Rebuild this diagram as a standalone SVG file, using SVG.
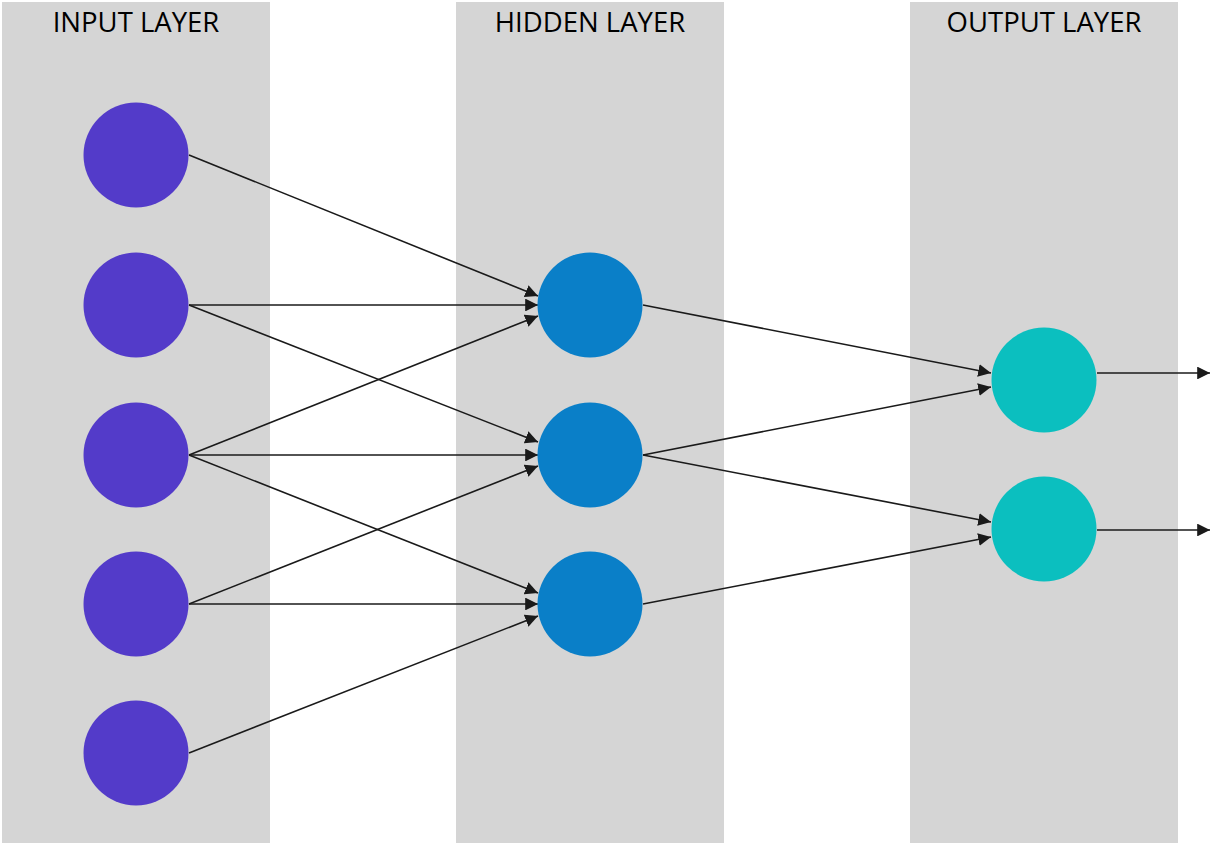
<svg xmlns="http://www.w3.org/2000/svg" width="1210" height="846" viewBox="0 0 1210 846">
<style>
.col{fill:#d5d5d5}
.lbl{font-family:"Open Sans","Liberation Sans",sans-serif;font-size:27.5px;fill:#000;text-anchor:middle;font-weight:400}
.in{fill:#533bc9}
.hid{fill:#0a7fc8}
.out{fill:#0bbfbf}
.c line{stroke:#1a1a1a;stroke-width:1.6;marker-end:url(#ah)}
</style>
<defs>
<marker id="ah" viewBox="0 0 10 10" refX="10" refY="5" markerWidth="8" markerHeight="8" markerUnits="strokeWidth" orient="auto">
<path d="M0,0 L10,5 L0,10 z" fill="#1a1a1a"/>
</marker>
</defs>
<g id="columns">
<rect class="col" x="2" y="2" width="268" height="841"/>
<rect class="col" x="456" y="2" width="268" height="841"/>
<rect class="col" x="910" y="2" width="268" height="841"/>
<text class="lbl" x="136" y="32">INPUT LAYER</text>
<text class="lbl" x="590" y="32">HIDDEN LAYER</text>
<text class="lbl" x="1044" y="32">OUTPUT LAYER</text>
</g>
<g id="connectors" class="c">
<line x1="189" y1="155" x2="538" y2="296"/>
<line x1="189" y1="305" x2="538" y2="305"/>
<line x1="189" y1="305" x2="538" y2="442"/>
<line x1="189" y1="455" x2="538" y2="316"/>
<line x1="189" y1="455" x2="538" y2="455"/>
<line x1="189" y1="455" x2="538" y2="593"/>
<line x1="189" y1="604" x2="538" y2="466"/>
<line x1="189" y1="604" x2="538" y2="604"/>
<line x1="189" y1="753" x2="538" y2="616"/>
<line x1="643" y1="305" x2="991" y2="373"/>
<line x1="643" y1="455" x2="991" y2="387"/>
<line x1="643" y1="455" x2="991" y2="522"/>
<line x1="643" y1="604" x2="991" y2="537"/>
<line x1="1097" y1="373" x2="1210" y2="373"/>
<line x1="1097" y1="530" x2="1210" y2="530"/>
</g>
<g id="in1"><circle class="in" cx="136" cy="155" r="52.5"/></g>
<g id="in2"><circle class="in" cx="136" cy="305" r="52.5"/></g>
<g id="in3"><circle class="in" cx="136" cy="455" r="52.5"/></g>
<g id="in4"><circle class="in" cx="136" cy="604" r="52.5"/></g>
<g id="in5"><circle class="in" cx="136" cy="753" r="52.5"/></g>
<g id="h1"><circle class="hid" cx="590" cy="305" r="52.5"/></g>
<g id="h2"><circle class="hid" cx="590" cy="455" r="52.5"/></g>
<g id="h3"><circle class="hid" cx="590" cy="604" r="52.5"/></g>
<g id="o1"><circle class="out" cx="1044" cy="380" r="52.5"/></g>
<g id="o2"><circle class="out" cx="1044" cy="529" r="52.5"/></g>
</svg>
